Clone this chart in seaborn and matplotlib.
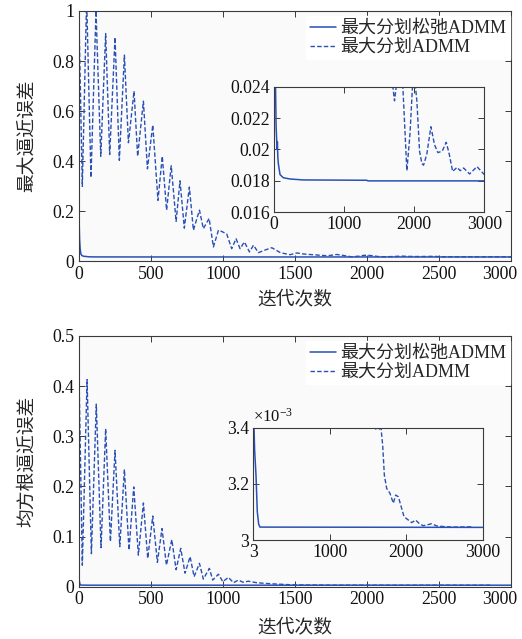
import matplotlib
matplotlib.use("Agg")
import matplotlib.pyplot as plt
import matplotlib.transforms as mtransforms
import numpy as np
import pandas as pd
import seaborn as sns
from matplotlib.ticker import FixedLocator, FuncFormatter

# ---------------- data ----------------
label_relax = "最大分划松弛ADMM"
label_admm = "最大分划ADMM"
xlabel_txt = "迭代次数"
ylabel_top = "最大逼近误差"
ylabel_bot = "均方根逼近误差"

# top panel: max approximation error
top_relax_x = [0, 3, 6, 10, 15, 22, 30, 38, 45, 48, 55, 62, 86, 133, 229, 419, 1324, 1340, 3000]
top_relax_y = [0.27, 0.16, 0.09, 0.05, 0.03, 0.024, 0.0215, 0.0206, 0.0200, 0.0205, 0.0195,
               0.0191, 0.0184, 0.0182, 0.01812, 0.01806, 0.01804, 0.01800, 0.01800]

top_admm_x = [0, 25, 55, 85, 120, 153, 187, 215, 252, 282, 317, 345, 384, 409, 449, 477,
              514, 550, 580, 610, 642, 676, 703, 733, 768, 796, 838, 865, 905, 935, 970,
              992, 1027, 1062, 1092, 1120, 1150, 1185, 1213, 1247, 1290, 1340, 1400, 1467,
              1513, 1560, 1600, 1650, 1695, 1719, 1743, 1790, 1838, 1895, 1940, 1981, 2000,
              2038, 2076, 2110, 2133, 2180, 2238, 2290, 2338, 2400, 2457, 2500, 2548, 2610,
              2657, 2705, 2790, 2895, 3000]
top_admm_y = [1.02, 0.30, 1.05, 0.335, 1.0, 0.42, 0.91, 0.427, 0.895, 0.404, 0.824, 0.474,
              0.68, 0.42, 0.64, 0.37, 0.545, 0.244, 0.42, 0.205, 0.382, 0.16, 0.322, 0.133,
              0.297, 0.125, 0.205, 0.131, 0.172, 0.058, 0.125, 0.12, 0.11, 0.051, 0.091,
              0.051, 0.078, 0.038, 0.065, 0.035, 0.045, 0.055, 0.035, 0.027, 0.034, 0.03,
              0.028, 0.026, 0.024, 0.0231, 0.024, 0.028, 0.024, 0.01865, 0.021, 0.0245,
              0.0248, 0.0231, 0.0199, 0.0191, 0.0190, 0.0197, 0.02145, 0.0203, 0.0198,
              0.0199, 0.02046, 0.0197, 0.0186, 0.01886, 0.01865, 0.01882, 0.01844, 0.01891,
              0.0184]

# bottom panel: RMS approximation error
bot_relax_x = [0, 4, 8, 12, 20, 30, 38, 55, 73, 90, 3000]
bot_relax_y = [0.023, 0.012, 0.006, 0.0034, 0.00332, 0.00327, 0.00323, 0.00310, 0.003056,
               0.003046, 0.003045]

bot_admm_x = [0, 25, 58, 88, 122, 155, 187, 220, 252, 285, 317, 349, 382, 414, 449, 479,
              514, 546, 578, 609, 646, 676, 708, 738, 773, 801, 838, 865, 907, 930, 970,
              1000, 1039, 1074, 1108, 1140, 1178, 1235, 1328, 1467, 1530, 1580, 1606, 1630,
              1650, 1667, 1693, 1715, 1745, 1789, 1832, 1863, 1898, 1941, 1972, 2029, 2072,
              2124, 2181, 2225, 2334, 2399, 2530, 2660, 2834, 2860]
bot_admm_y = [0.458, 0.043, 0.413, 0.066, 0.364, 0.078, 0.315, 0.090, 0.272, 0.080, 0.234,
              0.073, 0.199, 0.063, 0.167, 0.0566, 0.141, 0.0486, 0.116, 0.043, 0.094, 0.034,
              0.0765, 0.027, 0.06, 0.02, 0.0466, 0.0153, 0.0366, 0.0133, 0.025, 0.01, 0.0187,
              0.008, 0.0133, 0.009, 0.011, 0.008, 0.006, 0.004, 0.0036, 0.00342, 0.003392,
              0.00341, 0.003395, 0.00341, 0.003338, 0.003231, 0.003184, 0.003166, 0.003131,
              0.003160, 0.003154, 0.003113, 0.003083, 0.003071, 0.003062, 0.003071, 0.003056,
              0.003051, 0.003058, 0.003050, 0.003047, 0.003046, 0.003047, 0.003046]

top_xticks = [0, 500, 1000, 1500, 2000, 2500, 3000]
top_yticks = [0, 0.2, 0.4, 0.6, 0.8, 1.0]
bot_yticks = [0, 0.1, 0.2, 0.3, 0.4, 0.5]
ins1_xticks = [0, 1000, 2000, 3000]
ins1_yticks = [0.016, 0.018, 0.020, 0.022, 0.024]
ins2_xticks = [3, 1000, 2000, 3000]
ins2_yticks = [0.0030, 0.0032, 0.0034]

# ---------------- style ----------------
sns.set_theme(style="ticks")
plt.rcParams["font.family"] = ["Liberation Serif", "Noto Sans CJK SC"]
plt.rcParams["mathtext.fontset"] = "custom"
plt.rcParams["mathtext.rm"] = "Liberation Serif"
plt.rcParams["mathtext.it"] = "Liberation Serif:italic"

BLUE = "#2a50b6"
FACE = "#fafafa"
SPINE = "#3a3a3a"
TICK_FS = 12.8
DASH = (0, (3.2, 1.6))

fig = plt.figure(figsize=(5.22, 6.39), dpi=100)
fig.patch.set_facecolor("white")

ax_top = fig.add_axes([0.1508, 0.5908, 0.828, 0.392])
ax_bot = fig.add_axes([0.1508, 0.0818, 0.828, 0.3924])
ax_in1 = fig.add_axes([0.5249, 0.6678, 0.4029, 0.1965])
ax_in2 = fig.add_axes([0.4853, 0.1549, 0.4394, 0.1758])


def style(ax):
    ax.set_facecolor(FACE)
    for s in ax.spines.values():
        s.set_color(SPINE)
        s.set_linewidth(0.8)
    ax.tick_params(direction="in", top=True, right=True, length=4, width=0.7,
                   colors=SPINE, labelcolor="#111111", labelsize=TICK_FS, pad=3)
    ax.grid(False)


def fmt_g(v, pos):
    return "%g" % round(v, 6)


def draw(ax, rx, ry, ax_x, ax_y, legend):
    df_r = pd.DataFrame({"x": rx, "y": ry})
    df_a = pd.DataFrame({"x": ax_x, "y": ax_y})
    sns.lineplot(data=df_r, x="x", y="y", ax=ax, color=BLUE, lw=1.1, sort=False,
                 estimator=None, label=label_relax if legend else None, legend=legend)
    sns.lineplot(data=df_a, x="x", y="y", ax=ax, color=BLUE, lw=1.0, sort=False,
                 estimator=None, linestyle=DASH,
                 label=label_admm if legend else None, legend=legend)


# top main
draw(ax_top, top_relax_x, top_relax_y, top_admm_x, top_admm_y, True)
style(ax_top)
ax_top.set_xlim(0, 3000)
ax_top.set_ylim(0, 1)
ax_top.xaxis.set_major_locator(FixedLocator(top_xticks))
ax_top.yaxis.set_major_locator(FixedLocator(top_yticks))
ax_top.yaxis.set_major_formatter(FuncFormatter(fmt_g))
ax_top.set_xlabel(xlabel_txt, fontsize=13.5, labelpad=6)
ax_top.set_ylabel(ylabel_top, fontsize=13.5, labelpad=12)

# bottom main
draw(ax_bot, bot_relax_x, bot_relax_y, bot_admm_x, bot_admm_y, True)
style(ax_bot)
ax_bot.set_xlim(0, 3000)
ax_bot.set_ylim(0, 0.5)
ax_bot.xaxis.set_major_locator(FixedLocator(top_xticks))
ax_bot.yaxis.set_major_locator(FixedLocator(bot_yticks))
ax_bot.yaxis.set_major_formatter(FuncFormatter(fmt_g))
ax_bot.set_xlabel(xlabel_txt, fontsize=13.5, labelpad=8)
ax_bot.set_ylabel(ylabel_bot, fontsize=13.5, labelpad=12)

for ax in (ax_top, ax_bot):
    ax.legend(loc="upper right", bbox_to_anchor=(1.01, 1.0), fontsize=13,
              frameon=True, facecolor="white", edgecolor="white", framealpha=1.0,
              fancybox=False, handlelength=1.45, handletextpad=0.25,
              labelspacing=0.1, borderpad=0.2, borderaxespad=0.3)

# top inset
draw(ax_in1, top_relax_x, top_relax_y, top_admm_x, top_admm_y, False)
style(ax_in1)
ax_in1.set_xlim(0, 3000)
ax_in1.set_ylim(0.016, 0.024)
ax_in1.xaxis.set_major_locator(FixedLocator(ins1_xticks))
ax_in1.yaxis.set_major_locator(FixedLocator(ins1_yticks))
ax_in1.yaxis.set_major_formatter(FuncFormatter(fmt_g))
ax_in1.set_xlabel("")
ax_in1.set_ylabel("")

# bottom inset
draw(ax_in2, bot_relax_x, bot_relax_y, bot_admm_x, bot_admm_y, False)
style(ax_in2)
ax_in2.set_xlim(3, 3000)
ax_in2.set_ylim(0.0030, 0.0034)
ax_in2.xaxis.set_major_locator(FixedLocator(ins2_xticks))
ax_in2.yaxis.set_major_locator(FixedLocator(ins2_yticks))
ax_in2.yaxis.set_major_formatter(FuncFormatter(lambda v, p: "%g" % round(v * 1e3, 4)))
ax_in2.set_xlabel("")
ax_in2.set_ylabel("")
ax_in2.text(0.0, 1.015, r"×10$^{-3}$", transform=ax_in2.transAxes, ha="left", va="bottom",
            fontsize=12, color="#111111")

# keep the last main x tick label inside the figure (as in the reference)
shift = mtransforms.ScaledTranslation(-11 / 100, 0, fig.dpi_scale_trans)
for ax in (ax_top, ax_bot):
    last = ax.xaxis.get_major_ticks()[len(top_xticks) - 1].label1
    last.set_transform(last.get_transform() + shift)

fig.savefig("out.png", dpi=100, facecolor="white")
